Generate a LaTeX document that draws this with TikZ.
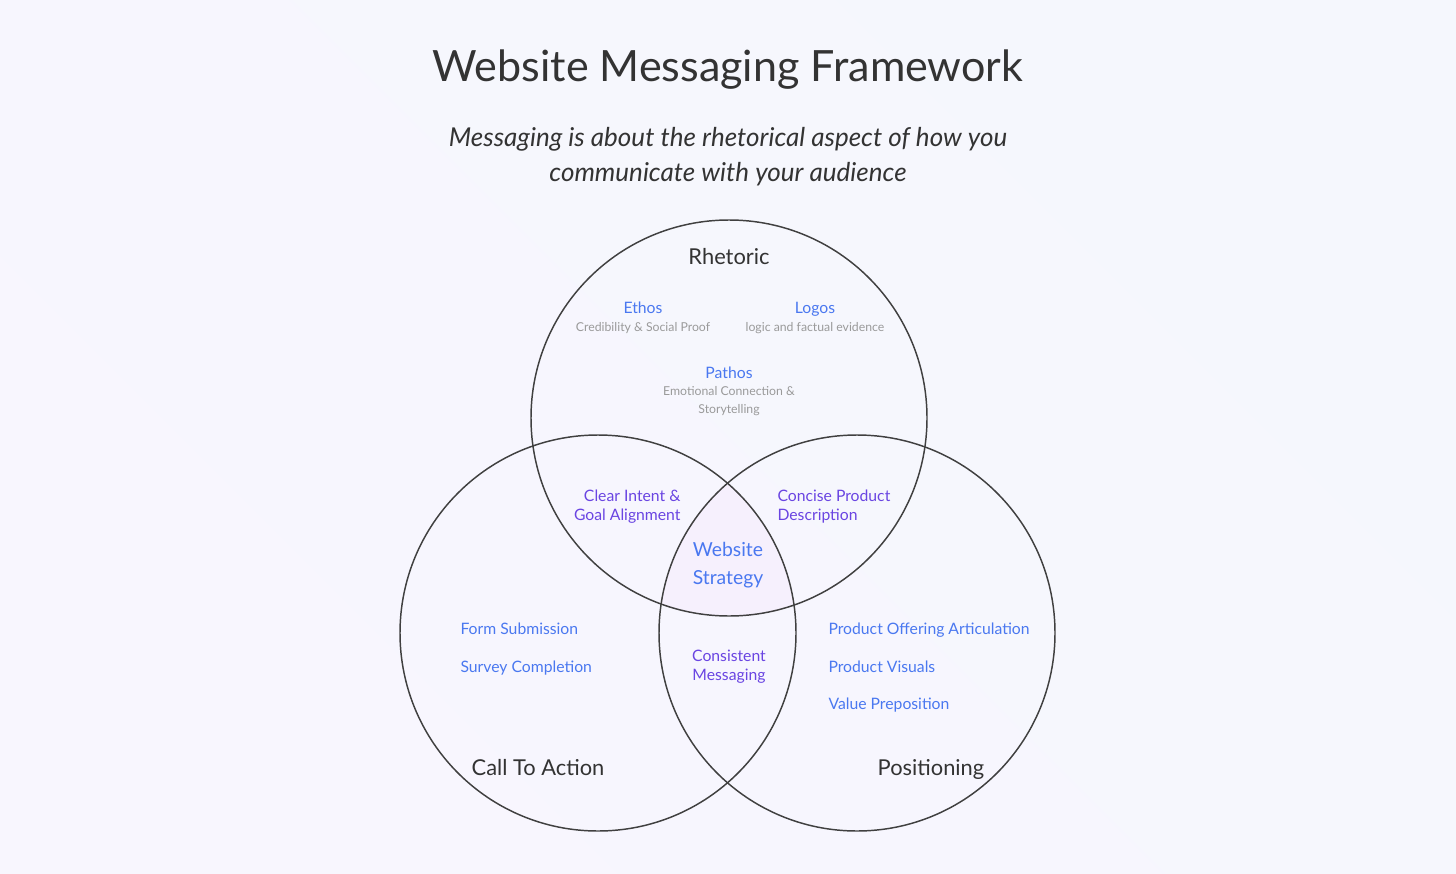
\documentclass[tikz,border=0pt]{standalone}
\usepackage{fontspec}
\setmainfont{Lato}
\usetikzlibrary{positioning}

\definecolor{bgA}{HTML}{F8F6FE}
\definecolor{bgB}{HTML}{F5F7FD}
\definecolor{coreFill}{HTML}{F6F0FD}
\definecolor{ringLine}{HTML}{404040}
\definecolor{headTxt}{HTML}{333333}
\definecolor{itemBlue}{HTML}{4A78F0}
\definecolor{pairPurple}{HTML}{6A45E2}
\definecolor{noteGray}{HTML}{9A9A9A}

\tikzset{every picture/.style={line width=0.75pt}}
\tikzset{
  ring/.style={draw=ringLine, line width=1.1pt},
  setname/.style={text=headTxt, font=\fontsize{16.4}{19}\selectfont, inner sep=0pt, anchor=base},
  item/.style={text=itemBlue, font=\fontsize{11.8}{14}\selectfont, inner sep=0pt, anchor=base},
  pairtxt/.style={text=pairPurple, font=\fontsize{11.8}{14.3}\selectfont, inner sep=0pt},
  note/.style={text=noteGray, font=\fontsize{9.2}{13}\selectfont, inner sep=0pt, align=center}
}

\begin{document}
\begin{tikzpicture}[x=0.75pt,y=0.75pt,yscale=-1,xscale=1]
	\useasboundingbox (0,0) rectangle (1456,874);
	% background
	\shade [left color=bgA, right color=bgB, shading angle=135] (0,0) rectangle (1456,874);

	%Shape: Circle core fill
	\begin{scope}
	\clip (729,418) circle (198);
	\clip (598,633) circle (198);
	\fill [coreFill] (857,633) circle (198);
	\end{scope}

	%Shape: Circle [Rhetoric]
	\draw [ring] (729,418) circle (198);
	%Shape: Circle [Call To Action]
	\draw [ring] (598,633) circle (198);
	%Shape: Circle [Positioning]
	\draw [ring] (857,633) circle (198);

	% Text Node
	\draw (728,82) node (title) [text=headTxt, font=\fontsize{32.3}{36}\selectfont, inner sep=0pt, anchor=base] {Website Messaging Framework};
	% Text Node
	\draw (728,157) node (subtitle) [text=headTxt, font=\fontsize{19.5}{26.3}\selectfont\itshape, align=center, inner sep=0pt] {Messaging is about the rhetorical aspect of how you\\communicate with your audience};

	% Text Node
	\draw (729,264) node (rhetoric) [setname] {Rhetoric};
	% Text Node
	\draw (538,775) node (cta) [setname] {Call To Action};
	% Text Node
	\draw (931,775) node (positioning) [setname] {Positioning};

	% Text Node
	\draw (643,313.7) node (ethos) [item] {Ethos};
	\draw (643,331.5) node (ethosnote) [note, anchor=base] {Credibility \& Social Proof};
	% Text Node
	\draw (815,313.7) node (logos) [item] {Logos};
	\draw (815,331.5) node (logosnote) [note, anchor=base] {logic and factual evidence};
	% Text Node
	\draw (729,378.7) node (pathos) [item] {Pathos};
	\draw (729,401) node (pathosnote) [note] {Emotional Connection \&\\Storytelling};

	% Text Node
	\draw (681,507) node (intent) [pairtxt, anchor=east, align=right] {Clear Intent \&\\Goal Alignment};
	% Text Node
	\draw (777,507) node (concise) [pairtxt, anchor=west, align=left] {Concise Product\\Description};
	% Text Node
	\draw (729,667) node (consistent) [pairtxt, align=center] {Consistent\\Messaging};

	% Text Node
	\draw (728,565) node (strategy) [text=itemBlue, font=\fontsize{14.5}{21}\selectfont, align=center, inner sep=0pt] {Website\\Strategy};

	% Text Node
	\draw (460,634.7) node (form) [item, anchor=base west] {Form Submission};
	\draw (460,672.7) node (survey) [item, anchor=base west] {Survey Completion};

	% Text Node
	\draw (828,634.7) node (offering) [item, anchor=base west] {Product Offering Articulation};
	\draw (828,672.7) node (visuals) [item, anchor=base west] {Product Visuals};
	\draw (828,709.7) node (value) [item, anchor=base west] {Value Preposition};

\end{tikzpicture}
\end{document}
